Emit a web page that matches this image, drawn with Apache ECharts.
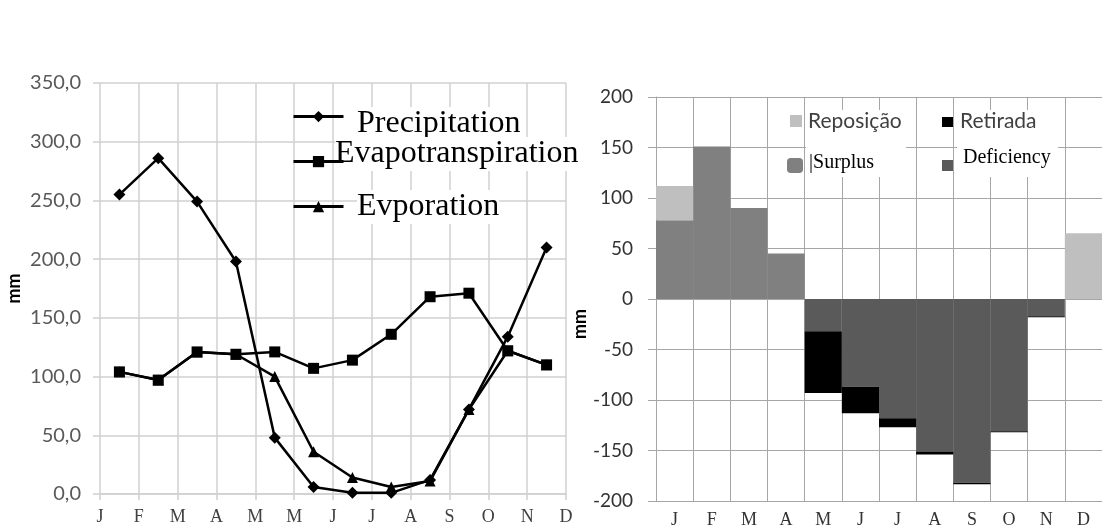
<!DOCTYPE html>
<html>
<head>
<meta charset="utf-8">
<script src="https://cdn.jsdelivr.net/npm/echarts@6/dist/echarts.min.js"></script>
<style>html,body{margin:0;padding:0;background:#fff}#c{width:1102px;height:531px}</style>
</head>
<body>
<div id="c"></div>
<script>
// ---- Left chart data ----
const leftTickLabels = ['J','F','M','A','M','M','J','J','A','S','O','N','D'];
const precipitation      = [255, 286, 249, 198, 48, 6, 1, 1, 12, 72, 134, 210];
const evapotranspiration = [104, 97, 121, 119, 121, 107, 114, 136, 168, 171, 122, 110];
const evaporation        = [104, 97, 121, 119, 100, 36, 14, 6, 11, 72, 122, 110];

// ---- Right chart data ----
const rightMonths = ['J','F','M','A','M','J','J','A','S','O','N','D'];
const surplus    = [78, 151, 90, 45, 0, 0, 0, 0, 0, 0, 0, 0];
const reposicao  = [34, 0, 0, 0, 0, 0, 0, 0, 0, 0, 0, 65];
const deficiency = [0, 0, 0, 0, -32, -87, -118, -151, -182, -131, -17, 0];
const retirada   = [0, 0, 0, 0, -61, -26, -9, -3, -1.5, -1, -1, 0];

const toPts = arr => arr.map((v, i) => [i + 0.5, v]);

const SANS = 'Lato';
const SERIF = 'Liberation Serif';

// icon-only legend (no text)
const iconLegend = (name, icon, left, cy, w, h) => ({
  data: [icon ? {name: name, icon: icon} : name], left: left, top: cy - h / 2, padding: 0,
  itemWidth: w, itemHeight: h, z: 12, formatter: () => '',
  lineStyle: {width: 3, color: '#000'},
  textStyle: {fontSize: 1, lineHeight: h}
});
// text-only legend (no icon)
const textLegend = (name, label, left, cy, style) => ({
  data: [{name: name, icon: 'none'}], left: left - 5, top: cy - style.lineHeight / 2, padding: 0,
  itemWidth: 0, itemHeight: 0, z: 11, formatter: () => label,
  textStyle: style
});

const leftLegendText = {fontFamily: SERIF, fontSize: 32, lineHeight: 34, color: '#000', backgroundColor: '#fff'};
const sansLegendText = {fontFamily: SANS, fontSize: 21, lineHeight: 24, color: '#404040'};
const serifLegendText = {fontFamily: SERIF, fontSize: 20, lineHeight: 24, color: '#000'};

const chart = echarts.init(document.getElementById('c'));
const lineBase = {type: 'line', xAxisIndex: 0, yAxisIndex: 0, symbolSize: 11,
  lineStyle: {color: '#000', width: 2.5}, itemStyle: {color: '#000'}};

chart.setOption({
  animation: false,
  grid: [
    {left: 100, right: 536, top: 83, bottom: 37},
    {left: 656, right: -6, top: 97, bottom: 30}
  ],
  xAxis: [
    {type: 'value', gridIndex: 0, min: 0, max: 12, interval: 1,
     axisLine: {show: true, lineStyle: {color: '#d0d0d0', width: 1.5}},
     axisTick: {show: true, length: 6, lineStyle: {color: '#d0d0d0', width: 1.5}},
     splitLine: {show: true, lineStyle: {color: '#d0d0d0', width: 1.5}},
     axisLabel: {formatter: v => leftTickLabels[v], fontFamily: SERIF, fontSize: 18, color: '#404040', margin: 14}},
    {type: 'category', gridIndex: 1, data: rightMonths, boundaryGap: true,
     axisLine: {show: true, onZero: false, lineStyle: {color: '#a6a6a6'}},
     axisTick: {show: false},
     splitLine: {show: true, interval: 0, lineStyle: {color: '#a6a6a6', width: 1}},
     axisLabel: {fontFamily: SERIF, fontSize: 18, color: '#333', margin: 10, interval: 0}}
  ],
  yAxis: [
    {type: 'value', gridIndex: 0, min: 0, max: 350, interval: 50,
     name: 'mm', nameLocation: 'middle', nameGap: 77, nameRotate: 90,
     nameTextStyle: {fontFamily: SANS, fontSize: 18, fontWeight: 'bold', color: '#000'},
     axisLine: {show: false},
     axisTick: {show: true, length: 7, lineStyle: {color: '#d0d0d0', width: 1.5}},
     splitLine: {show: true, lineStyle: {color: '#d0d0d0', width: 1.5}},
     axisLabel: {formatter: v => v.toFixed(1).replace('.', ','), fontFamily: SANS, fontSize: 20, color: '#595959', margin: 19}},
    {type: 'value', gridIndex: 1, min: -200, max: 200, interval: 50,
     name: 'mm', nameLocation: 'middle', nameGap: 56, nameRotate: 90,
     nameTextStyle: {fontFamily: SANS, fontSize: 18, fontWeight: 'bold', color: '#000', padding: [0, 50, 0, 0]},
     axisLine: {show: true, lineStyle: {color: '#a6a6a6'}},
     axisTick: {show: true, length: 8, lineStyle: {color: '#a6a6a6'}},
     splitLine: {show: true, lineStyle: {color: '#a6a6a6', width: 1}},
     axisLabel: {fontFamily: SANS, fontSize: 19, color: '#333', margin: 23}}
  ],
  legend: [
    textLegend('Precipitation', 'Precipitation', 357, 124, leftLegendText),
    textLegend('Evapotranspiration', 'Evapotranspiration', 335, 154, leftLegendText),
    textLegend('Evporation', 'Evporation', 357, 207, leftLegendText),
    iconLegend('Precipitation', null, 292, 118, 50, 14),
    iconLegend('Evapotranspiration', null, 292, 163, 50, 14),
    iconLegend('Evporation', null, 292, 208, 50, 14),
    textLegend('Reposição', 'Reposição', 808, 121, sansLegendText),
    textLegend('Retirada', 'Retirada', 960, 121, sansLegendText),
    textLegend('Surplus', '|Surplus', 809, 163, serifLegendText),
    textLegend('Deficiency', 'Deficiency', 963, 158, serifLegendText),
    iconLegend('Reposição', 'rect', 790, 121, 12, 12),
    iconLegend('Retirada', 'rect', 942, 122, 11, 10),
    iconLegend('Surplus', 'roundRect', 787, 165.5, 16, 15),
    iconLegend('Deficiency', 'rect', 942, 165.5, 11, 11)
  ],
  graphic: [
    {type: 'rect', z: 5, shape: {x: 806, y: 110, width: 100, height: 67}, style: {fill: '#fff'}},
    {type: 'rect', z: 5, shape: {x: 957, y: 110, width: 101, height: 67}, style: {fill: '#fff'}}
  ],
  series: [
    Object.assign({}, lineBase, {name: 'Precipitation', symbol: 'diamond', symbolSize: 12, data: toPts(precipitation), z: 3}),
    Object.assign({}, lineBase, {name: 'Evporation', symbol: 'triangle', data: toPts(evaporation), z: 2}),
    Object.assign({}, lineBase, {name: 'Evapotranspiration', symbol: 'rect', data: toPts(evapotranspiration), z: 4}),
    {name: 'Surplus', type: 'bar', xAxisIndex: 1, yAxisIndex: 1, stack: 'wb', barCategoryGap: '0%',
     itemStyle: {color: '#808080'}, data: surplus},
    {name: 'Deficiency', type: 'bar', xAxisIndex: 1, yAxisIndex: 1, stack: 'wb', barCategoryGap: '0%',
     itemStyle: {color: '#5a5a5a'}, data: deficiency},
    {name: 'Reposição', type: 'bar', xAxisIndex: 1, yAxisIndex: 1, stack: 'wb', barCategoryGap: '0%',
     itemStyle: {color: '#bfbfbf'}, data: reposicao},
    {name: 'Retirada', type: 'bar', xAxisIndex: 1, yAxisIndex: 1, stack: 'wb', barCategoryGap: '0%',
     itemStyle: {color: '#000'}, data: retirada}
  ]
});
</script>
</body>
</html>
